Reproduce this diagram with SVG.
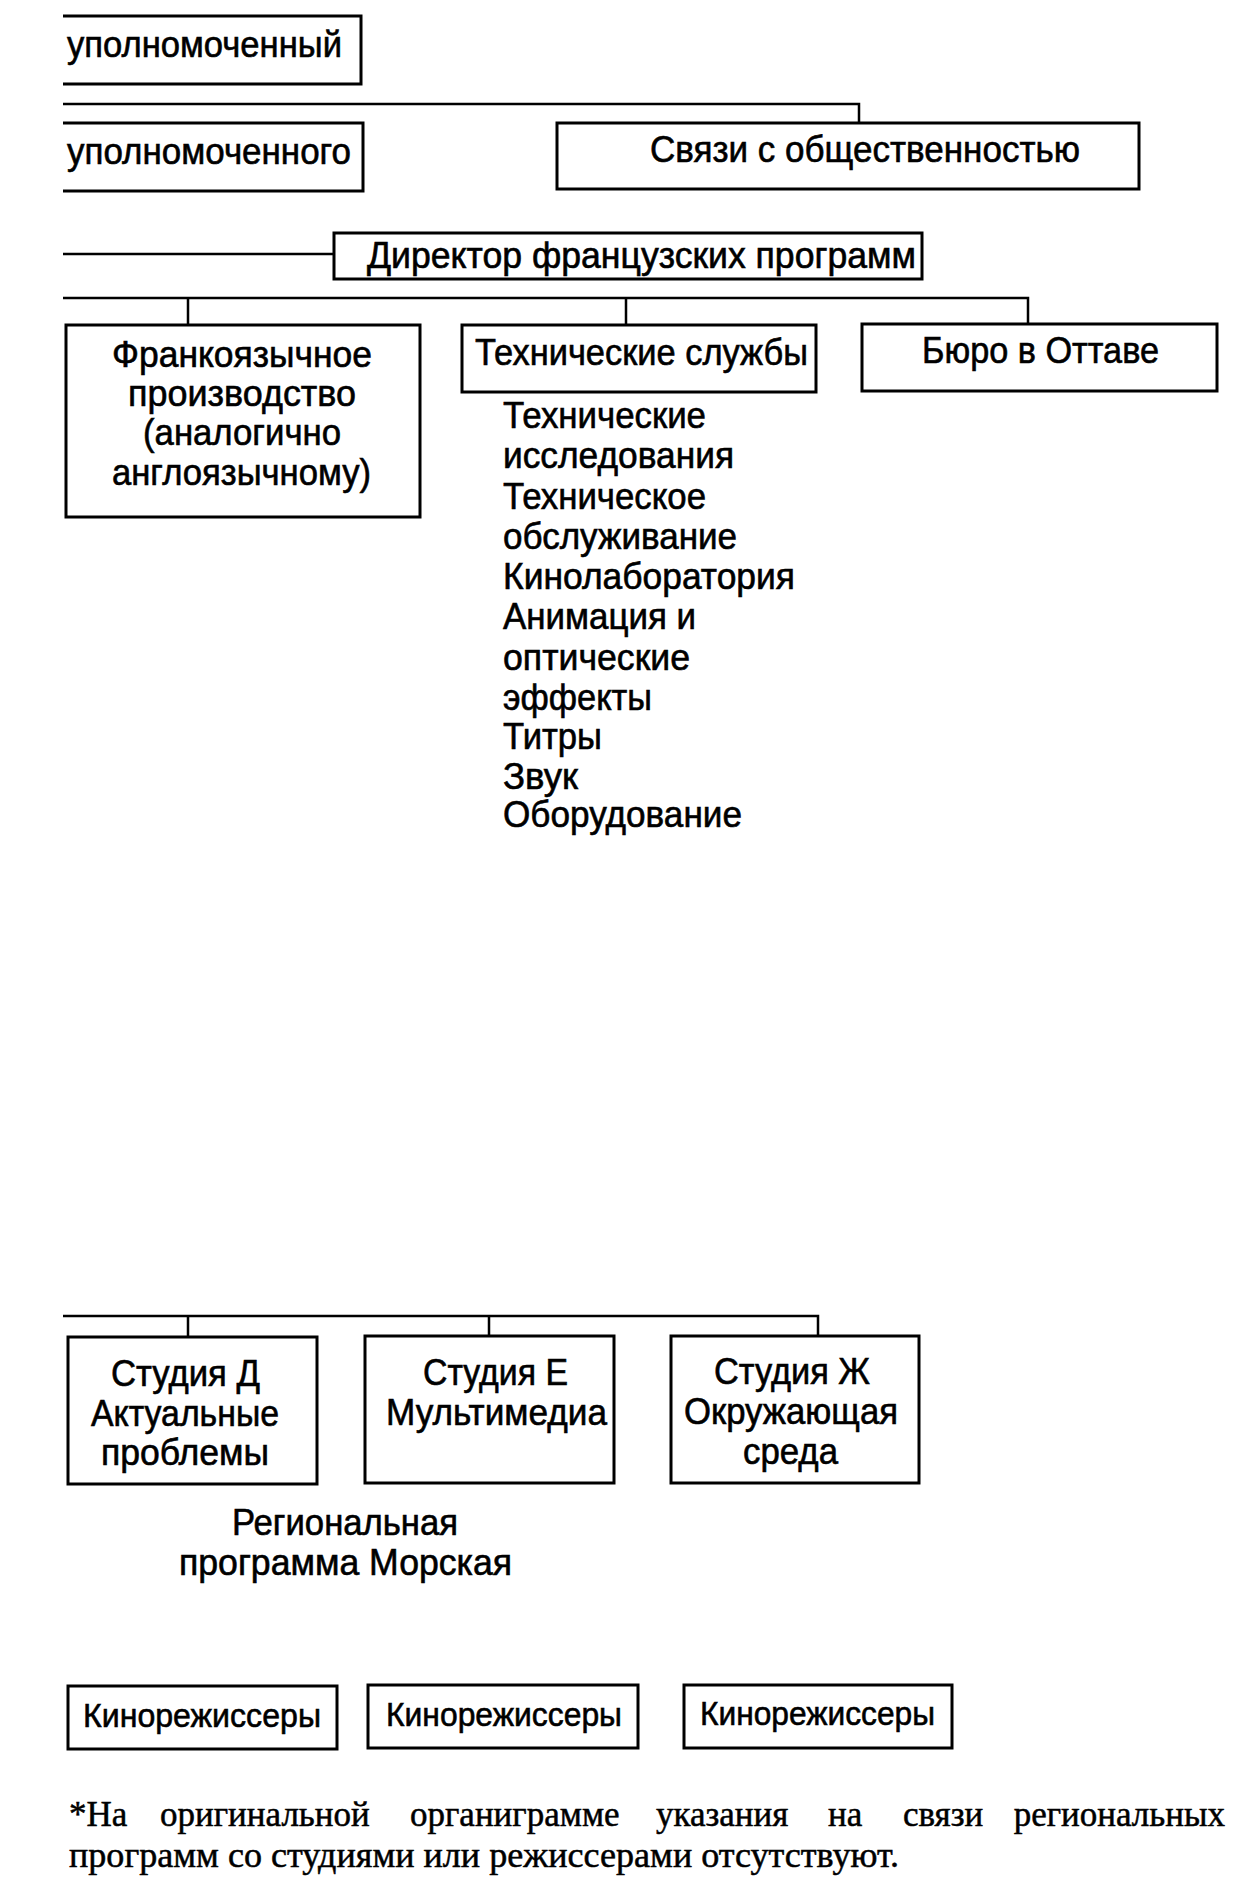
<svg xmlns="http://www.w3.org/2000/svg" width="1248" height="1900" viewBox="0 0 1248 1900">
<style>
.box{fill:none;stroke:#000;stroke-width:3}
.ln{fill:none;stroke:#000;stroke-width:2.5}
.t{font-family:"Liberation Sans",Arial,sans-serif;font-size:36px;fill:#000;stroke:#000;stroke-width:0.6}
.k{font-family:"Liberation Sans",Arial,sans-serif;font-size:34px;fill:#000;stroke:#000;stroke-width:0.6}
.f{font-family:"Liberation Serif","Times New Roman",serif;font-size:35px;fill:#000;stroke:#000;stroke-width:0.5}
</style>
<rect width="1248" height="1900" fill="#fff"/>
<g id="connectors">
<path class="ln" d="M63,104 H859 V123"/>
<path class="ln" d="M63,254 H334"/>
<path class="ln" d="M63,298 H1028 V324 M188,298 V324 M626,298 V324"/>
<path class="ln" d="M63,1316 H818 V1337 M188,1316 V1337 M489,1316 V1337"/>
</g>
<g id="n-upol1">
<path class="box" d="M63,16 H361 V84 H63"/>
<text class="t" x="67" y="57" textLength="275" lengthAdjust="spacingAndGlyphs">уполномоченный</text>
</g>
<g id="n-upol2">
<path class="box" d="M63,123 H363 V191 H63"/>
<text class="t" x="67" y="164" textLength="284" lengthAdjust="spacingAndGlyphs">уполномоченного</text>
</g>
<g id="n-pr">
<rect class="box" x="557" y="123" width="582" height="66"/>
<text class="t" x="650" y="162" textLength="430" lengthAdjust="spacingAndGlyphs">Связи с общественностью</text>
</g>
<g id="n-dir">
<rect class="box" x="334" y="233" width="588" height="46"/>
<text class="t" x="367" y="268" textLength="549" lengthAdjust="spacingAndGlyphs">Директор французских программ</text>
</g>
<g id="n-franko">
<rect class="box" x="66" y="325" width="354" height="192"/>
<text class="t" x="112" y="367" textLength="260" lengthAdjust="spacingAndGlyphs">Франкоязычное</text>
<text class="t" x="128" y="406" textLength="228" lengthAdjust="spacingAndGlyphs">производство</text>
<text class="t" x="143" y="445" textLength="198" lengthAdjust="spacingAndGlyphs">(аналогично</text>
<text class="t" x="112" y="485" textLength="259" lengthAdjust="spacingAndGlyphs">англоязычному)</text>
</g>
<g id="n-tech">
<rect class="box" x="462" y="325" width="354" height="67"/>
<text class="t" x="475" y="365" textLength="333" lengthAdjust="spacingAndGlyphs">Технические службы</text>
</g>
<g id="n-tech-list">
<text class="t" x="503" y="428" textLength="203" lengthAdjust="spacingAndGlyphs">Технические</text>
<text class="t" x="503" y="468" textLength="231" lengthAdjust="spacingAndGlyphs">исследования</text>
<text class="t" x="503" y="509" textLength="203" lengthAdjust="spacingAndGlyphs">Техническое</text>
<text class="t" x="503" y="549" textLength="234" lengthAdjust="spacingAndGlyphs">обслуживание</text>
<text class="t" x="503" y="589" textLength="292" lengthAdjust="spacingAndGlyphs">Кинолаборатория</text>
<text class="t" x="503" y="629" textLength="193" lengthAdjust="spacingAndGlyphs">Анимация и</text>
<text class="t" x="503" y="670" textLength="187" lengthAdjust="spacingAndGlyphs">оптические</text>
<text class="t" x="503" y="710" textLength="149" lengthAdjust="spacingAndGlyphs">эффекты</text>
<text class="t" x="503" y="749" textLength="99" lengthAdjust="spacingAndGlyphs">Титры</text>
<text class="t" x="503" y="789" textLength="75" lengthAdjust="spacingAndGlyphs">Звук</text>
<text class="t" x="503" y="827" textLength="239" lengthAdjust="spacingAndGlyphs">Оборудование</text>
</g>
<g id="n-ottawa">
<rect class="box" x="862" y="324" width="355" height="67"/>
<text class="t" x="922" y="363" textLength="237" lengthAdjust="spacingAndGlyphs">Бюро в Оттаве</text>
</g>
<g id="n-studio-d">
<rect class="box" x="68" y="1337" width="249" height="147"/>
<text class="t" x="111" y="1386" textLength="149" lengthAdjust="spacingAndGlyphs">Студия Д</text>
<text class="t" x="91" y="1426" textLength="188" lengthAdjust="spacingAndGlyphs">Актуальные</text>
<text class="t" x="101" y="1465" textLength="168" lengthAdjust="spacingAndGlyphs">проблемы</text>
</g>
<g id="n-studio-e">
<rect class="box" x="365" y="1336" width="249" height="147"/>
<text class="t" x="423" y="1385" textLength="145" lengthAdjust="spacingAndGlyphs">Студия Е</text>
<text class="t" x="386" y="1425" textLength="221" lengthAdjust="spacingAndGlyphs">Мультимедиа</text>
</g>
<g id="n-studio-zh">
<rect class="box" x="671" y="1336" width="248" height="147"/>
<text class="t" x="714" y="1384" textLength="156" lengthAdjust="spacingAndGlyphs">Студия Ж</text>
<text class="t" x="684" y="1424" textLength="214" lengthAdjust="spacingAndGlyphs">Окружающая</text>
<text class="t" x="743" y="1464" textLength="95" lengthAdjust="spacingAndGlyphs">среда</text>
</g>
<g id="n-regional">
<text class="t" x="232" y="1535" textLength="226" lengthAdjust="spacingAndGlyphs">Региональная</text>
<text class="t" x="179" y="1575" textLength="333" lengthAdjust="spacingAndGlyphs">программа Морская</text>
</g>
<g id="n-dir1">
<rect class="box" x="68" y="1686" width="269" height="63"/>
<text class="k" x="83" y="1727" textLength="238" lengthAdjust="spacingAndGlyphs">Кинорежиссеры</text>
</g>
<g id="n-dir2">
<rect class="box" x="368" y="1685" width="270" height="63"/>
<text class="k" x="386" y="1726" textLength="236" lengthAdjust="spacingAndGlyphs">Кинорежиссеры</text>
</g>
<g id="n-dir3">
<rect class="box" x="684" y="1685" width="268" height="63"/>
<text class="k" x="700" y="1725" textLength="235" lengthAdjust="spacingAndGlyphs">Кинорежиссеры</text>
</g>
<g id="footnote">
<text class="f" x="69" y="1826">*На</text>
<text class="f" x="160" y="1826">оригинальной</text>
<text class="f" x="410" y="1826">органиграмме</text>
<text class="f" x="656" y="1826">указания</text>
<text class="f" x="828" y="1826">на</text>
<text class="f" x="903" y="1826">связи</text>
<text class="f" x="1225" y="1826" text-anchor="end">региональных</text>
<text class="f" x="69" y="1867" textLength="830" lengthAdjust="spacingAndGlyphs">программ со студиями или режиссерами отсутствуют.</text>
</g>
</svg>
